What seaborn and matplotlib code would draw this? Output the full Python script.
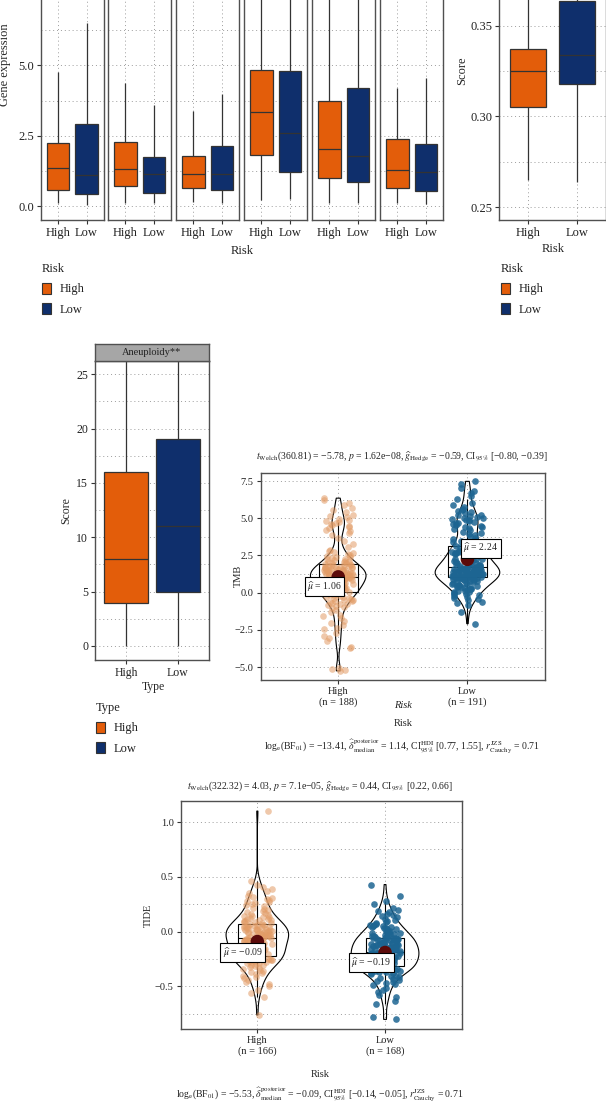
import numpy as np
import pandas as pd
import matplotlib
matplotlib.use("Agg")
import matplotlib.pyplot as plt
from matplotlib.patches import Patch
from matplotlib.ticker import MultipleLocator, FormatStrFormatter
import seaborn as sns

W, H = 606, 1103

# ---------------- data ----------------
risk = ["High", "Low"]

# box summaries: [lower whisker, Q1, median, Q3, upper whisker]
gene_high = [
    [0.12, 0.57, 1.36, 2.25, 4.78],
    [0.09, 0.71, 1.33, 2.26, 4.38],
    [0.13, 0.63, 1.13, 1.79, 3.39],
    [0.21, 1.80, 3.33, 4.83, 8.50],
    [0.10, 1.01, 2.03, 3.72, 8.50],
    [0.10, 0.65, 1.28, 2.37, 4.19],
]
gene_low = [
    [0.04, 0.44, 1.10, 2.90, 6.50],
    [0.09, 0.47, 1.13, 1.74, 3.58],
    [0.09, 0.58, 1.13, 2.12, 3.98],
    [0.25, 1.22, 2.58, 4.79, 8.50],
    [0.10, 0.85, 1.77, 4.19, 8.50],
    [0.06, 0.54, 1.20, 2.22, 4.56],
]
score_high = [0.265, 0.305, 0.325, 0.337, 0.385]
score_low = [0.264, 0.318, 0.334, 0.3638, 0.400]
aneu_high = [0, 4, 8, 16, 30]
aneu_low = [0, 5, 11, 19, 30]

# TMB per sample (estimated from the jittered points / violins)
tmb_high = [
    -5.25, -5.2, -5.12, -5.05, -3.7, -3.62, -3.28, -3.05, -2.92, -2.68,
    -2.45, -2.36, -2.18, -2.04, -1.88, -1.73, -1.58, -1.47, -1.31, -1.18,
    -1.06, -0.97, -0.91, -0.84, -0.79, -0.73, -0.69, -0.63, -0.58, -0.55,
    -0.49, -0.46, -0.41, -0.37, -0.33, -0.29, -0.26, -0.21, -0.18, -0.14,
    -0.11, -0.08, -0.05, -0.02, 0.01, 0.03, 0.04, 0.06, 0.09, 0.11,
    0.13, 0.16, 0.18, 0.21, 0.23, 0.26, 0.28, 0.31, 0.33, 0.35,
    0.38, 0.4, 0.42, 0.45, 0.47, 0.49, 0.52, 0.54, 0.56, 0.58,
    0.6, 0.62, 0.65, 0.67, 0.69, 0.71, 0.73, 0.75, 0.77, 0.79,
    0.81, 0.83, 0.85, 0.87, 0.89, 0.91, 0.93, 0.95, 0.97, 0.99,
    1.01, 1.03, 1.05, 1.07, 1.09, 1.1, 1.12, 1.13, 1.15, 1.16,
    1.18, 1.19, 1.21, 1.22, 1.24, 1.26, 1.27, 1.29, 1.3, 1.32,
    1.34, 1.35, 1.37, 1.39, 1.4, 1.42, 1.44, 1.46, 1.47, 1.49,
    1.51, 1.53, 1.55, 1.57, 1.59, 1.61, 1.63, 1.65, 1.67, 1.69,
    1.71, 1.73, 1.75, 1.77, 1.79, 1.81, 1.84, 1.86, 1.88, 1.91,
    1.93, 1.96, 1.99, 2.03, 2.07, 2.11, 2.15, 2.2, 2.24, 2.29,
    2.33, 2.38, 2.43, 2.48, 2.54, 2.6, 2.66, 2.73, 2.8, 2.9,
    3.05, 3.25, 3.45, 3.65, 3.85, 4.0, 4.12, 4.24, 4.35, 4.42,
    4.5, 4.56, 4.62, 4.68, 4.74, 4.82, 4.9, 4.98, 5.06, 5.15,
    5.25, 5.4, 5.55, 5.7, 5.88, 6.05, 6.22, 6.35,
]
tmb_low = [
    -2.08, -1.32, -0.83, -0.71, -0.62, -0.52, -0.43, -0.36, -0.29, -0.22,
    -0.16, -0.11, -0.06, -0.02, 0.03, 0.07, 0.11, 0.14, 0.18, 0.22,
    0.25, 0.29, 0.33, 0.36, 0.4, 0.43, 0.47, 0.5, 0.54, 0.57,
    0.61, 0.64, 0.68, 0.71, 0.74, 0.78, 0.81, 0.84, 0.87, 0.9,
    0.93, 0.95, 0.97, 0.98, 0.99, 1.0, 1.01, 1.02,
    1.03, 1.05, 1.06, 1.08, 1.09, 1.11, 1.12, 1.14, 1.15, 1.17,
    1.18, 1.2, 1.21, 1.23, 1.24, 1.26, 1.27, 1.29, 1.3, 1.32,
    1.33, 1.35, 1.36, 1.38, 1.39, 1.41, 1.42, 1.44, 1.45, 1.47,
    1.48, 1.5, 1.51, 1.53, 1.54, 1.56, 1.57, 1.59, 1.6, 1.62,
    1.63, 1.65, 1.66, 1.68, 1.69, 1.7, 1.71,
    1.74, 1.77, 1.8, 1.83, 1.86, 1.89, 1.92, 1.95, 1.98, 2.01,
    2.04, 2.07, 2.1, 2.13, 2.16, 2.2, 2.23, 2.26, 2.29, 2.32,
    2.35, 2.38, 2.41, 2.44, 2.47, 2.5, 2.53, 2.56, 2.59, 2.62,
    2.65, 2.68, 2.71, 2.74, 2.77, 2.8, 2.83, 2.86, 2.89, 2.92,
    2.95, 2.98, 3.01, 3.04, 3.07, 3.09, 3.11, 3.12,
    3.2, 3.3, 3.4, 3.48, 3.55, 3.62, 3.7, 3.78, 3.86, 3.94,
    4.02, 4.1, 4.18, 4.26, 4.32, 4.38, 4.44, 4.5, 4.55, 4.6,
    4.65, 4.7, 4.75, 4.8, 4.85, 4.9, 4.95, 5.0, 5.05, 5.1,
    5.15, 5.2, 5.25, 5.32, 5.4, 5.48, 5.56, 5.65, 5.75, 5.9,
    6.05, 6.3, 6.5, 6.7, 6.85, 7.05, 7.3, 7.48,
]
tmb_means = [1.06, 2.24]
tmb_n = [188, 191]

# TIDE per sample
tide_high = [
    -0.76, -0.6, -0.56, -0.53, -0.5, -0.48, -0.46, -0.44, -0.42, -0.41,
    -0.4, -0.39, -0.38, -0.37, -0.36, -0.35, -0.34, -0.33, -0.32, -0.31,
    -0.305, -0.3, -0.295, -0.29, -0.285, -0.28, -0.275, -0.27, -0.265, -0.26,
    -0.255, -0.25, -0.248, -0.245, -0.242, -0.24, -0.237, -0.235, -0.232, -0.23, -0.229,
    -0.225, -0.22, -0.216, -0.212, -0.208, -0.204, -0.2, -0.196, -0.192, -0.188,
    -0.184, -0.18, -0.176, -0.172, -0.168, -0.164, -0.16, -0.156, -0.152, -0.148,
    -0.144, -0.14, -0.136, -0.132, -0.128, -0.124, -0.12, -0.116, -0.112, -0.108,
    -0.104, -0.1, -0.096, -0.092, -0.088, -0.084, -0.08, -0.076, -0.072, -0.068, -0.064, -0.061,
    -0.057, -0.054, -0.051, -0.048, -0.045, -0.042, -0.039, -0.036, -0.033, -0.03,
    -0.027, -0.024, -0.021, -0.018, -0.015, -0.012, -0.009, -0.006, -0.003, 0.0,
    0.003, 0.006, 0.009, 0.012, 0.015, 0.018, 0.021, 0.024, 0.027, 0.03,
    0.033, 0.036, 0.039, 0.042, 0.045, 0.048, 0.051, 0.054, 0.057, 0.06, 0.064,
    0.07, 0.075, 0.08, 0.085, 0.09, 0.095, 0.1, 0.105, 0.11, 0.115,
    0.12, 0.125, 0.13, 0.135, 0.14, 0.145, 0.15, 0.16, 0.17, 0.18,
    0.19, 0.2, 0.21, 0.22, 0.23, 0.24, 0.25, 0.26, 0.27, 0.28,
    0.29, 0.3, 0.31, 0.32, 0.33, 0.35, 0.37, 0.39, 0.41, 0.43, 0.46, 1.1,
]
tide_low = [
    -0.8, -0.78, -0.66, -0.63, -0.6, -0.58, -0.55, -0.53, -0.51, -0.49,
    -0.48, -0.47, -0.46, -0.45, -0.44, -0.43, -0.42, -0.41, -0.4, -0.4,
    -0.39, -0.38, -0.38, -0.37, -0.37, -0.36, -0.36, -0.35, -0.35, -0.35,
    -0.34, -0.34, -0.34, -0.33, -0.33, -0.33, -0.33, -0.32, -0.32, -0.32, -0.32, -0.315,
    -0.31, -0.31, -0.3, -0.3, -0.3, -0.29, -0.29, -0.29, -0.28, -0.28,
    -0.28, -0.27, -0.27, -0.27, -0.26, -0.26, -0.26, -0.25, -0.25, -0.25,
    -0.24, -0.24, -0.24, -0.23, -0.23, -0.23, -0.22, -0.22, -0.22, -0.21,
    -0.21, -0.21, -0.21, -0.2, -0.2, -0.2, -0.2, -0.19, -0.19, -0.19, -0.19, -0.19,
    -0.18, -0.18, -0.18, -0.17, -0.17, -0.17, -0.16, -0.16, -0.16, -0.15,
    -0.15, -0.15, -0.14, -0.14, -0.14, -0.13, -0.13, -0.13, -0.12, -0.12,
    -0.12, -0.11, -0.11, -0.11, -0.1, -0.1, -0.1, -0.09, -0.09, -0.09,
    -0.08, -0.08, -0.08, -0.07, -0.07, -0.07, -0.07, -0.06, -0.06, -0.06, -0.06, -0.06,
    -0.05, -0.05, -0.04, -0.04, -0.03, -0.03, -0.02, -0.02, -0.01, -0.01,
    0.0, 0.0, 0.01, 0.01, 0.02, 0.02, 0.03, 0.03, 0.04, 0.04,
    0.05, 0.05, 0.06, 0.06, 0.07, 0.08, 0.09, 0.1, 0.11, 0.12,
    0.13, 0.14, 0.15, 0.16, 0.18, 0.19, 0.2, 0.22, 0.25, 0.28, 0.33, 0.43,
]
tide_means = [-0.09, -0.19]
tide_n = [166, 168]

tmb_title = (r"$t_{\mathrm{Welch}}$(360.81) = −5.78, $p$ = 1.62e−08, "
             r"$\widehat{g}_{\mathrm{Hedge}}$ = −0.59, CI$_{95\%}$ [−0.80, −0.39]")
tmb_caption = (r"log$_{\mathrm{e}}$(BF$_{01}$) = −13.41, "
               r"$\widehat{\delta}_{\mathrm{median}}^{\mathrm{posterior}}$ = 1.14, "
               r"CI$_{95\%}^{\mathrm{HDI}}$ [0.77, 1.55], $r_{\mathrm{Cauchy}}^{\mathrm{JZS}}$ = 0.71")
tide_title = (r"$t_{\mathrm{Welch}}$(322.32) = 4.03, $p$ = 7.1e−05, "
              r"$\widehat{g}_{\mathrm{Hedge}}$ = 0.44, CI$_{95\%}$ [0.22, 0.66]")
tide_caption = (r"log$_{\mathrm{e}}$(BF$_{01}$) = −5.53, "
                r"$\widehat{\delta}_{\mathrm{median}}^{\mathrm{posterior}}$ = −0.09, "
                r"CI$_{95\%}^{\mathrm{HDI}}$ [−0.14, −0.05], $r_{\mathrm{Cauchy}}^{\mathrm{JZS}}$ = 0.71")

# ---------------- style ----------------
ORANGE = "#E35D0A"
NAVY = "#0F2F6C"
HIGH_PT = "#E29C66"
LOW_PT = "#1D6592"
MEAN_COL = "#5C0B0B"
box_pal = {"High": ORANGE, "Low": NAVY}

sns.set_theme(style="ticks")
plt.rcParams["font.family"] = ["Liberation Serif", "DejaVu Serif"]
plt.rcParams["mathtext.fontset"] = "stix"
plt.rcParams["text.color"] = "#222222"

fig = plt.figure(figsize=(W / 100, H / 100), dpi=100)
fig.patch.set_facecolor("white")


def px_axes(x0, y0, x1, y1):
    return fig.add_axes([x0 / W, 1 - y1 / H, (x1 - x0) / W, (y1 - y0) / H])


def px_text(x, y, s, **kw):
    fig.text(x / W, 1 - y / H, s, ha="center", va="center", **kw)


def gg_panel(ax, major, minor, fs, ticks=None):
    if ticks is None:
        ax.yaxis.set_major_locator(MultipleLocator(major))
    else:
        ax.set_yticks(ticks)
    ax.yaxis.set_minor_locator(MultipleLocator(minor))
    grid_kw = dict(color="#9c9c9c", linestyle=(0, (1, 3)), linewidth=0.7)
    ax.grid(axis="y", which="both", **grid_kw)
    ax.grid(axis="x", which="major", **grid_kw)
    ax.set_axisbelow(True)
    for sp in ax.spines.values():
        sp.set_visible(True)
        sp.set_color("#505050")
        sp.set_linewidth(1.0)
    ax.tick_params(which="major", length=3, width=0.8, color="#333333",
                   labelsize=fs, pad=2, labelcolor="#222222")
    ax.tick_params(which="minor", length=0)
    ax.set_xlabel("")
    ax.set_ylabel("")


def set_labels(ax, xlabel, xpos, ylabel, ypos, fs):
    if xlabel:
        ax.set_xlabel(xlabel, fontsize=fs)
        ax.xaxis.label.set_va("center")
        ax.xaxis.set_label_coords(*xpos)
    if ylabel:
        ax.set_ylabel(ylabel, fontsize=fs)
        ax.yaxis.label.set_va("center")
        ax.yaxis.set_label_coords(*ypos)


def summary_boxes(ax, high, low, width):
    df = pd.DataFrame({"Risk": ["High"] * len(high) + ["Low"] * len(low),
                       "value": high + low})
    sns.boxplot(data=df, x="Risk", y="value", hue="Risk", order=risk, hue_order=risk,
                palette=box_pal, saturation=1, width=width, whis=(0, 100),
                showcaps=False, dodge=False, linecolor="#333333", linewidth=0.9,
                legend=False, ax=ax)


def box_legend(title, x, y):
    handles = [Patch(facecolor=box_pal[g], edgecolor="#333333", linewidth=0.8, label=g)
               for g in risk]
    fig.legend(handles=handles, title=title, loc="upper left",
               bbox_to_anchor=(x / W, 1 - y / H), frameon=False, fontsize=9,
               title_fontsize=9, handlelength=0.75, handleheight=1.0,
               handletextpad=0.7, labelspacing=0.6, borderpad=0, borderaxespad=0,
               alignment="left")


def between_panel(ax, high, low, means, ns, col, bws, vwidths, offsets):
    df = pd.DataFrame({"Risk": ["High"] * len(high) + ["Low"] * len(low),
                       col: high + low})
    np.random.seed(3)
    for g, pc, a, bw, vw in zip(risk, [HIGH_PT, LOW_PT], [0.55, 0.85], bws, vwidths):
        sub = df[df["Risk"] == g]
        sns.stripplot(data=sub, x="Risk", y=col, order=risk, color=pc, alpha=a,
                      size=4.8, jitter=0.12, linewidth=0, ax=ax)
        sns.violinplot(data=sub, x="Risk", y=col, order=risk, fill=False,
                       color="black", linewidth=0.8, inner=None, cut=0,
                       bw_method=bw, width=vw, density_norm="width", ax=ax)
    n0 = len(ax.patches)
    sns.boxplot(data=df, x="Risk", y=col, order=risk, color="white", linecolor="black",
                linewidth=0.8, width=0.3, showfliers=False, showcaps=False, ax=ax)
    for p in ax.patches[n0:]:
        p.set_facecolor((1, 1, 1, 0.3))
    sns.scatterplot(x=risk, y=means, color=MEAN_COL, s=95, edgecolor="none",
                    zorder=6, legend=False, ax=ax)
    for i, (m, off) in enumerate(zip(means, offsets)):
        lab = (r"$\widehat{\mu}$ = " + f"{m:.2f}").replace("-", "−")
        ax.annotate(lab, xy=(i, m), xytext=off, textcoords="offset points",
                    ha="center", va="center", fontsize=7, zorder=7,
                    bbox=dict(boxstyle="square,pad=0.25", fc="white", ec="black", lw=0.8))
    ax.set_xlim(-0.6, 1.6)
    ax.set_xticks([0, 1], [f"{g}\n(n = {n})" for g, n in zip(risk, ns)])


# ---------------- top left: six gene facets ----------------
facet_left = [40.7, 108.3, 176.3, 244.3, 312.3, 380.3]
for i, left in enumerate(facet_left):
    ax = px_axes(left, -90, left + 63, 220.3)
    summary_boxes(ax, gene_high[i], gene_low[i], 0.77)
    ax.set_xlim(-0.6, 1.6)
    ax.set_ylim(-0.508, 10.53)
    gg_panel(ax, 2.5, 1.25, 9, ticks=[0, 2.5, 5.0])
    ax.yaxis.set_major_formatter(FormatStrFormatter("%.1f"))
    if i == 0:
        set_labels(ax, None, None, "Gene expression", (-0.56, 0.5), 9)
    else:
        ax.tick_params(axis="y", which="both", left=False, labelleft=False)
px_text(242, 251, "Risk", fontsize=9)
box_legend("Risk", 42, 263)

# ---------------- top right: score ----------------
ax = px_axes(499.3, -79, 605.7, 220.3)
summary_boxes(ax, score_high, score_low, 0.75)
ax.set_xlim(-0.6, 1.6)
ax.set_ylim(0.2427, 0.4077)
gg_panel(ax, 0.05, 0.025, 9, ticks=[0.25, 0.30, 0.35])
ax.yaxis.set_major_formatter(FormatStrFormatter("%.2f"))
set_labels(ax, "Risk", (0.505, -0.095), "Score", (-0.35, 0.5), 9)
box_legend("Risk", 501, 263)

# ---------------- middle left: aneuploidy ----------------
ax = px_axes(95, 361, 209, 660)
summary_boxes(ax, aneu_high, aneu_low, 0.86)
ax.set_xlim(-0.6, 1.6)
ax.set_ylim(-1.288, 26.22)
gg_panel(ax, 5, 2.5, 8.5)
set_labels(ax, "Type", (0.51, -0.09), "Score", (-0.254, 0.5), 8.5)
strip = px_axes(95, 344, 209, 361)
strip.set_facecolor("#A6A6A6")
strip.set_xticks([])
strip.set_yticks([])
for sp in strip.spines.values():
    sp.set_color("#505050")
    sp.set_linewidth(1.0)
strip.text(0.5, 0.5, "Aneuploidy**", ha="center", va="center", fontsize=7.5,
           transform=strip.transAxes)
box_legend("Type", 96, 702)

# ---------------- middle right: TMB ----------------
ax = px_axes(260.7, 472.7, 545, 680)
between_panel(ax, tmb_high, tmb_low, tmb_means, tmb_n, "TMB",
              [0.21, 0.29], [0.43, 0.5], [(-10, -7), (9.5, 8)])
ax.set_ylim(-5.867, 8.06)
gg_panel(ax, 2.5, 1.25, 7.5)
set_labels(ax, "Risk", (0.5, -0.209), "TMB", (-0.08, 0.5), 7.5)
ax.text(0.5, -0.121, "Risk", style="italic", ha="center", va="center", fontsize=7.5,
        transform=ax.transAxes)
px_text(402, 457, tmb_title, fontsize=7)
px_text(402, 746, tmb_caption, fontsize=7)

# ---------------- bottom: TIDE ----------------
ax = px_axes(180.7, 800.7, 461.7, 1029.3)
between_panel(ax, tide_high, tide_low, tide_means, tide_n, "TIDE",
              [0.32, 0.3], [0.49, 0.53], [(-10.5, -8), (-10, -7.5)])
ax.set_ylim(-0.8905, 1.195)
gg_panel(ax, 0.5, 0.25, 7.5)
set_labels(ax, "Risk", (0.496, -0.196), "TIDE", (-0.116, 0.5), 7.5)
px_text(320, 787, tide_title, fontsize=7)
px_text(320, 1094, tide_caption, fontsize=7)

fig.savefig("out.png", dpi=100)
